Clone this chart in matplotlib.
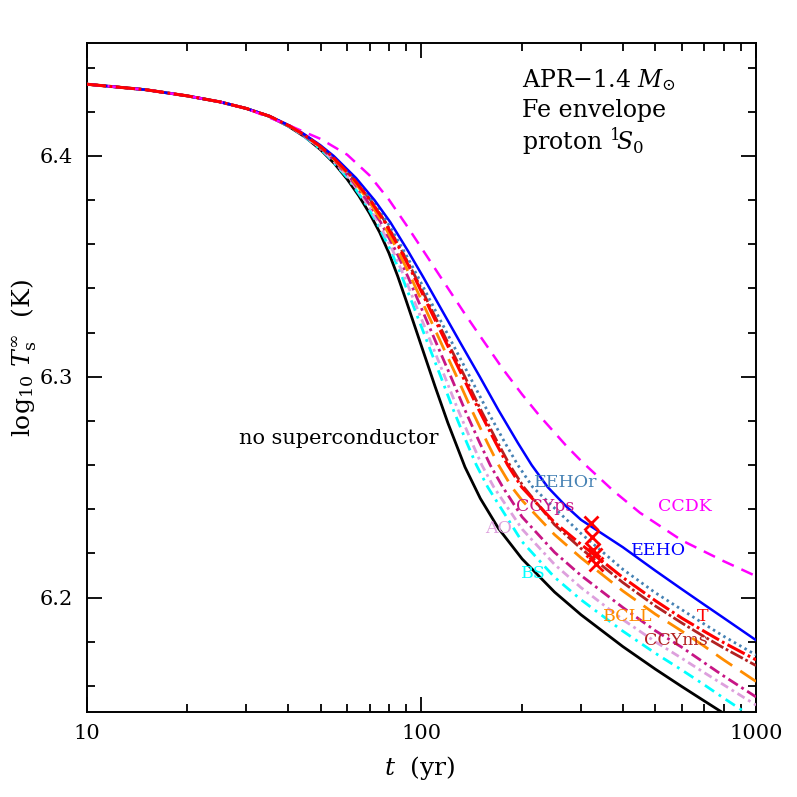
import matplotlib
matplotlib.use("Agg")
import matplotlib.pyplot as plt
from matplotlib.ticker import LogLocator, MultipleLocator, NullFormatter, FixedLocator, FixedFormatter

plt.rcParams['font.family'] = ['DejaVu Serif']
plt.rcParams['mathtext.fontset'] = 'dejavuserif'
plt.rcParams['lines.scale_dashes'] = False

# no superconductor (black)
t_none = [10, 15, 20, 25, 30, 35, 40, 45, 50, 55, 60, 65, 70, 75, 80, 85, 90, 100, 110, 120,
          135, 150, 170, 200, 250, 300, 400, 500, 600, 700, 800, 1000]
logT_none = [6.4325, 6.4300, 6.4272, 6.4245, 6.4215, 6.4180, 6.4135, 6.4085, 6.4028, 6.3965,
             6.3895, 6.3820, 6.3740, 6.3655, 6.3560, 6.3455, 6.3346, 6.3140, 6.2954, 6.2791,
             6.2591, 6.2449, 6.2313, 6.2175, 6.2025, 6.1922, 6.1778, 6.1676, 6.1597, 6.1532,
             6.1476, 6.1382]

# early part, common to all the gap models
t_early = [10, 15, 20, 25, 30]
logT_early = [6.4325, 6.4300, 6.4272, 6.4245, 6.4215]

# levels at which the ages of the steep part were read
logT_levels = [6.418, 6.4135, 6.41, 6.405, 6.40, 6.39, 6.38, 6.37, 6.357, 6.345, 6.33,
               6.315, 6.30, 6.285, 6.27, 6.26, 6.25]

t_BS = [35.03, 40.09, 43.61, 48.25, 52.51, 60.22, 67.10, 73.50, 81.10, 87.68, 95.81, 104.6,
        114.3, 124.6, 136.8, 146.0, 157.9]
t_BS_late = [200, 250, 300, 400, 500, 600, 700, 800, 1000]
logT_BS_late = [6.2253, 6.2092, 6.1990, 6.1848, 6.1748, 6.1672, 6.1605, 6.1545, 6.1448]

t_AO = [35.07, 40.19, 43.75, 48.51, 52.87, 60.71, 67.78, 74.36, 82.21, 89.13, 97.75, 107.2,
        117.5, 128.7, 141.8, 151.6, 164.6]
t_AO_late = [200, 250, 300, 400, 500, 600, 700, 800, 1000]
logT_AO_late = [6.2310, 6.2150, 6.2045, 6.1900, 6.1800, 6.1725, 6.1660, 6.1605, 6.1513]

t_CCYps = [35.11, 40.28, 43.90, 48.74, 53.24, 61.33, 68.66, 75.57, 83.90, 91.35, 100.7, 111.0,
           122.5, 134.9, 149.5, 160.6, 175.1]
t_CCYps_late = [200, 250, 300, 400, 500, 600, 700, 800, 1000]
logT_CCYps_late = [6.2365, 6.2205, 6.2100, 6.1955, 6.1850, 6.1775, 6.1705, 6.1645, 6.1550]

t_BCLL = [35.15, 40.38, 44.06, 49.00, 53.61, 61.84, 69.37, 76.47, 85.11, 93.09, 103.4, 114.8,
          127.6, 141.3, 157.6, 170.1, 186.3]
t_BCLL_late = [200, 250, 300, 400, 500, 600, 700, 800, 1000]
logT_BCLL_late = [6.2440, 6.2285, 6.2180, 6.2030, 6.1925, 6.1848, 6.1780, 6.1718, 6.1620]

t_T = [35.18, 40.47, 44.21, 49.25, 53.97, 62.45, 70.31, 77.78, 86.87, 95.41, 106.5, 119.0,
       133.0, 148.5, 166.9, 181.1, 199.5]
t_T_late = [250, 300, 400, 500, 600, 700, 800, 1000]
logT_T_late = [6.2340, 6.2241, 6.2091, 6.1986, 6.1907, 6.1847, 6.1796, 6.1718]

t_CCYms = [35.18, 40.47, 44.21, 49.25, 53.97, 62.55, 70.54, 78.16, 87.47, 96.18, 107.6, 120.4,
           134.9, 150.5, 169.3, 183.7, 202.3]
t_CCYms_late = [250, 300, 400, 500, 600, 700, 800, 1000]
logT_CCYms_late = [6.2330, 6.2222, 6.2068, 6.1962, 6.1885, 6.1823, 6.1772, 6.1692]

t_EEHOr = [35.22, 40.57, 44.36, 49.50, 54.34, 63.06, 71.25, 79.06, 88.67, 97.90, 110.1, 123.9,
           139.6, 157.0, 177.9, 194.2, 215.2]
t_EEHOr_late = [250, 300, 400, 500, 600, 700, 800, 1000]
logT_EEHOr_late = [6.2405, 6.2290, 6.2128, 6.2022, 6.1945, 6.1880, 6.1825, 6.1740]

t_EEHO = [35.25, 40.67, 44.52, 49.77, 54.71, 63.79, 72.42, 80.76, 91.17, 101.4, 115.3, 131.2,
          149.5, 169.8, 194.3, 213.6, 238.6]
t_EEHO_late = [270, 300, 400, 500, 600, 700, 800, 1000]
logT_EEHO_late = [6.2415, 6.2352, 6.2228, 6.2122, 6.2038, 6.1968, 6.1908, 6.1807]

t_CCDK = [10, 15, 20, 25, 30, 40, 50, 60, 70, 80, 90, 100, 115, 135, 150, 175, 200, 225, 270,
          300, 375, 450, 600, 800, 1000]
logT_CCDK = [6.4325, 6.4300, 6.4272, 6.4245, 6.4215, 6.4140, 6.4077, 6.4006, 6.3912, 6.3802,
             6.3689, 6.3584, 6.3444, 6.3284, 6.3183, 6.3036, 6.2920, 6.2825, 6.2690, 6.2619,
             6.2483, 6.2384, 6.2259, 6.2165, 6.2097]

# Cas A points (red crosses)
t_casA = [320.6, 322.8, 326.3, 330.0, 332.5]
logT_casA = [6.2339, 6.2276, 6.2215, 6.2193, 6.2152]

fig = plt.figure(figsize=(7.97, 7.97), dpi=100)
ax = fig.add_axes([0.1088, 0.1070, 0.8398, 0.8386])


def curve(t_steep, t_late, logT_late):
    return t_early + t_steep + t_late, logT_early + logT_levels + logT_late


ax.plot(t_none, logT_none, color='black', lw=2.0, zorder=3)
ax.plot(*curve(t_BS, t_BS_late, logT_BS_late), color='cyan', lw=2.0, dashes=(8, 4, 2, 4), zorder=3)
ax.plot(*curve(t_AO, t_AO_late, logT_AO_late), color='plum', lw=2.0, dashes=(6, 3, 2, 3), zorder=3)
ax.plot(*curve(t_CCYps, t_CCYps_late, logT_CCYps_late), color='mediumvioletred', lw=2.0,
        dashes=(8, 3, 2, 3), zorder=3)
ax.plot(*curve(t_BCLL, t_BCLL_late, logT_BCLL_late), color='darkorange', lw=2.0, dashes=(14, 7), zorder=3)
ax.plot(*curve(t_CCYms, t_CCYms_late, logT_CCYms_late), color='firebrick', lw=2.0,
        dashes=(10, 2, 2, 2), zorder=3)
ax.plot(*curve(t_EEHOr, t_EEHOr_late, logT_EEHOr_late), color='steelblue', lw=2.0,
        dashes=(1.8, 2.6), zorder=3)
ax.plot(*curve(t_T, t_T_late, logT_T_late), color='red', lw=2.2, dashes=(14, 2.5, 2, 2.5), zorder=4)
ax.plot(*curve(t_EEHO, t_EEHO_late, logT_EEHO_late), color='blue', lw=1.8, zorder=3)
ax.plot(t_CCDK, logT_CCDK, color='magenta', lw=1.8, dashes=(9, 6), zorder=3)

ax.plot(t_casA, logT_casA, ls='none', marker='x', ms=10, mew=2.0, color='red', zorder=5)

ax.set_xscale('log')
ax.set_xlim(10, 1000)
ax.set_ylim(6.1483, 6.451)

ax.xaxis.set_major_locator(FixedLocator([10, 100, 1000]))
ax.xaxis.set_major_formatter(FixedFormatter(['10', '100', '1000']))
ax.xaxis.set_minor_locator(LogLocator(base=10, subs=range(2, 10)))
ax.xaxis.set_minor_formatter(NullFormatter())
ax.yaxis.set_major_locator(MultipleLocator(0.1))
ax.yaxis.set_minor_locator(MultipleLocator(0.02))
ax.yaxis.set_major_formatter(plt.FuncFormatter(lambda v, p: f'{v:.1f}'))

ax.tick_params(which='both', direction='in', top=True, right=True, width=1.3)
ax.tick_params(which='major', length=11, labelsize=15)
ax.tick_params(axis='x', which='major', pad=9)
ax.tick_params(axis='y', which='major', pad=10)
ax.tick_params(which='minor', length=6)
for sp in ax.spines.values():
    sp.set_linewidth(1.4)

# curve labels
lab_fs = 12.5
ax.text(56.8, 6.2722, 'no superconductor', color='black', fontsize=15, ha='center', va='center')
ax.text(270.4, 6.2519, 'EEHOr', color='steelblue', fontsize=lab_fs, ha='center', va='center')
ax.text(234.2, 6.2414, 'CCYps', color='mediumvioletred', fontsize=lab_fs, ha='center', va='center')
ax.text(170.6, 6.2315, 'AO', color='plum', fontsize=lab_fs, ha='center', va='center')
ax.text(613.8, 6.2414, 'CCDK', color='magenta', fontsize=lab_fs, ha='center', va='center')
ax.text(509.6, 6.2215, 'EEHO', color='blue', fontsize=lab_fs, ha='center', va='center')
ax.text(215.6, 6.2107, 'BS', color='cyan', fontsize=lab_fs, ha='center', va='center')
ax.text(414.5, 6.1912, 'BCLL', color='darkorange', fontsize=lab_fs, ha='center', va='center')
ax.text(694.3, 6.1912, 'T', color='red', fontsize=lab_fs, ha='center', va='center')
ax.text(576.8, 6.1807, 'CCYms', color='firebrick', fontsize=lab_fs, ha='center', va='center')

# model description
ax.text(0.6504, 0.9346, 'APR\u22121.4 $M_{\\odot}$', transform=ax.transAxes, fontsize=17, va='baseline')
ax.text(0.6504, 0.8897, 'Fe envelope', transform=ax.transAxes, fontsize=17, va='baseline')
ax.text(0.6504, 0.8404, 'proton $^{1}\\!S_{0}$', transform=ax.transAxes, fontsize=17, va='baseline')

fig.text(420 / 797, 1 - 768 / 797, r'$t$  (yr)', fontsize=18, ha='center', va='center')
fig.text(24 / 797, 1 - 358 / 797, r'log$_{10}$ $T_{\rm s}^{\infty}$  (K)', fontsize=18,
         ha='center', va='center', rotation=90)

fig.savefig('out.png', dpi=100)
